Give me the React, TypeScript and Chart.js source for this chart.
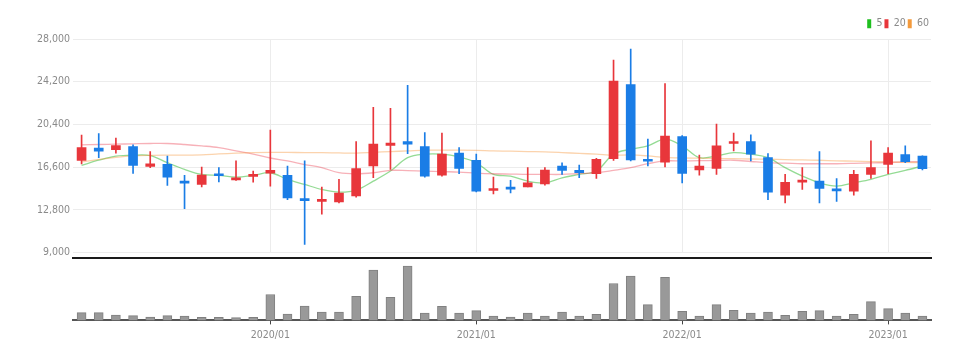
import React, { useEffect, useRef } from 'react';
import { Chart, registerables } from 'chart.js';

Chart.register(...registerables);

const FONT = "'Liberation Sans Narrow', 'DejaVu Sans Condensed', 'Roboto Condensed', 'Liberation Sans', sans-serif";

const months = [
  '2019/02', '2019/03', '2019/04', '2019/05', '2019/06', '2019/07', '2019/08', '2019/09', '2019/10', '2019/11', '2019/12',
  '2020/01', '2020/02', '2020/03', '2020/04', '2020/05', '2020/06', '2020/07', '2020/08', '2020/09', '2020/10', '2020/11', '2020/12',
  '2021/01', '2021/02', '2021/03', '2021/04', '2021/05', '2021/06', '2021/07', '2021/08', '2021/09', '2021/10', '2021/11', '2021/12',
  '2022/01', '2022/02', '2022/03', '2022/04', '2022/05', '2022/06', '2022/07', '2022/08', '2022/09', '2022/10', '2022/11', '2022/12',
  '2023/01', '2023/02', '2023/03',
];

const yearTicks = ['2020/01', '2021/01', '2022/01', '2023/01'];
const priceTicks = [9000, 12800, 16600, 20400, 24200, 28000];

const opens = [
  17200, 18300, 18170, 18440, 16680, 16860, 15360, 15070, 16020, 15480, 15790,
  16080, 15870, 13780, 13570, 13510, 14050, 16710, 18530, 18890, 18440, 15900, 17850,
  17220, 14530, 14830, 14850, 15120, 16710, 16320, 16020, 17360, 23940, 17310, 17040,
  19330, 16350, 16500, 18710, 18890, 17450, 14110, 15270, 15360, 14670, 14470, 15960,
  16860, 17720, 17600,
];
const highs = [
  19450, 19600, 19190, 18590, 17990, 17600, 15870, 16620, 16560, 17160, 16260,
  19900, 16710, 17160, 14830, 15520, 18890, 21930, 21840, 23880, 19690, 19640, 18350,
  17760, 15720, 15430, 16560, 16560, 17000, 16800, 17400, 26120, 27100, 19100, 24030,
  19420, 17670, 20440, 19640, 19490, 17810, 15960, 16560, 17990, 15600, 16320, 18950,
  18350, 18500, 17620,
];
const lows = [
  16900, 17450, 17850, 16050, 16550, 14980, 12920, 14850, 15300, 15430, 15270,
  14920, 13720, 9740, 12430, 13420, 13930, 15660, 16410, 17810, 15720, 15810, 16020,
  14400, 14220, 14310, 14850, 15000, 15960, 15660, 15600, 17200, 17150, 16710, 16620,
  15210, 15900, 15960, 18050, 17160, 13720, 13420, 14620, 13420, 13570, 14110, 15600,
  16020, 17000, 16350,
];
const closes = [
  18350, 18020, 18530, 16770, 16910, 15720, 15180, 15900, 15840, 15660, 15960,
  16320, 13870, 13630, 13750, 14290, 16470, 18650, 18740, 18650, 15810, 17760, 16500,
  14470, 14710, 14650, 15210, 16350, 16320, 16110, 17310, 24260, 17250, 17130, 19370,
  16050, 16710, 18500, 18890, 17760, 14380, 15250, 15430, 14710, 14490, 15960, 16560,
  17850, 17090, 16470,
];

const ma5 = [
  16770, 17220, 17580, 17670, 17630, 17000, 16410, 15960, 15870, 15720, 15870,
  16110, 15520, 15070, 14620, 14380, 14560, 15360, 16260, 17450, 17760, 17760, 17510,
  17000, 15960, 15810, 15360, 15210, 15660, 15960, 16260, 17760, 18200, 18500, 19100,
  18500, 17450, 17600, 17900, 17760, 17450, 16560, 15810, 15210, 14920, 15210, 15520,
  15960, 16320, 16710,
];
const ma20 = [
  18590, 18620, 18650, 18680, 18710, 18710, 18620, 18500, 18350, 18050, 17760,
  17420, 17160, 16840, 16560, 16110, 16020, 16110, 16320, 16300, 16260, 16210, 16170,
  16080, 16020, 15990, 15960, 15960, 15960, 16040, 16110, 16320, 16560, 16910, 17160,
  17160, 17180, 17200, 17220, 17110, 17000, 16960, 16910, 16910, 16910, 16940, 16980,
  17020, 17070, 17090,
];
const ma60 = [
  17070, 17290, 17470, 17600, 17650, 17670, 17680, 17690, 17780, 17850, 17900,
  17920, 17920, 17900, 17900, 17870, 17850, 17920, 17990, 18050, 18120, 18120, 18120,
  18100, 18050, 18030, 17990, 17960, 17900, 17830, 17760, 17670, 17690, 17600, 17470,
  17420, 17400, 17380, 17360, 17330, 17310, 17270, 17250, 17220, 17170, 17140, 17100,
  17070, 17040, 17000,
];

const volumes = [
  770, 770, 530, 470, 330, 470, 430, 300, 300, 270, 300,
  2570, 630, 1430, 830, 830, 2400, 5000, 2300, 5400, 730, 1400, 730,
  970, 430, 330, 730, 430, 830, 430, 600, 3670, 4400, 1570, 4270,
  900, 430, 1570, 1000, 730, 830, 500, 900, 970, 430, 600, 1870,
  1170, 730, 430,
];

const legendNames = ['5', '20', '60'];
const legendColors = ['#1fbf1f', '#e8363b', '#f39a3c'];
const lineColors = ['rgba(60,190,60,0.55)', 'rgba(236,70,85,0.42)', 'rgba(245,150,60,0.42)'];

const UP = '#e8363b';
const DOWN = '#1a7de6';
const candleColor = (i: number) => (closes[i] >= opens[i] ? UP : DOWN);
const isYear = (i: number) => yearTicks.includes(months[i]);

export default function App() {
  const priceRef = useRef<HTMLCanvasElement | null>(null);
  const volRef = useRef<HTMLCanvasElement | null>(null);

  useEffect(() => {
    const maSeries = [ma5, ma20, ma60];
    const price = new Chart(priceRef.current as HTMLCanvasElement, {
      type: 'bar',
      data: {
        labels: months,
        datasets: [
          ...maSeries.map((d, k) => ({
            type: 'line' as const,
            label: legendNames[k],
            data: d,
            borderColor: lineColors[k],
            backgroundColor: legendColors[k],
            borderWidth: 1.3,
            pointRadius: 0,
            tension: 0.35,
            order: 3 - k,
          })),
          {
            type: 'bar' as const,
            label: 'wick',
            data: months.map((_, i) => [lows[i], highs[i]]),
            backgroundColor: (ctx: any) => candleColor(ctx.dataIndex),
            barThickness: 1,
            grouped: false,
            order: 0,
          },
          {
            type: 'bar' as const,
            label: 'body',
            data: months.map((_, i) => [opens[i], closes[i]]),
            backgroundColor: (ctx: any) => candleColor(ctx.dataIndex),
            barThickness: 9,
            minBarLength: 2,
            grouped: false,
            order: -1,
          },
        ] as any,
      },
      options: {
        animation: false,
        responsive: true,
        maintainAspectRatio: false,
        layout: { padding: { left: 8, right: 46, top: 16.5, bottom: 0 } },
        plugins: {
          tooltip: { enabled: false },
          legend: {
            display: true,
            position: 'top',
            align: 'end',
            labels: {
              boxWidth: 4,
              boxHeight: 9,
              padding: 2,
              color: '#8a8a8a',
              font: { size: 10.5, family: FONT },
              generateLabels: () =>
                legendNames.map((t, k) => ({
                  text: t,
                  fillStyle: legendColors[k],
                  strokeStyle: legendColors[k],
                  lineWidth: 0,
                  fontColor: '#8a8a8a',
                  datasetIndex: k,
                  hidden: false,
                })),
            },
          },
        },
        scales: {
          x: {
            offset: true,
            ticks: { display: false, autoSkip: false },
            grid: {
              offset: false,
              drawTicks: false,
              color: (ctx: any) => (isYear(ctx.index) ? '#ececec' : 'rgba(0,0,0,0)'),
            },
            border: { display: false },
          },
          y: {
            min: 9000,
            max: 28000,
            afterBuildTicks: (s: any) => {
              s.ticks = priceTicks.map((v) => ({ value: v }));
            },
            afterFit: (s: any) => {
              s.width = 65;
            },
            ticks: {
              padding: 3,
              color: '#8a8a8a',
              font: { size: 10.5, family: FONT },
              callback: (v: any) => Number(v).toLocaleString('en-US'),
            },
            grid: { color: '#ececec', drawTicks: false },
            border: { display: false },
          },
        },
      } as any,
    });

    const vol = new Chart(volRef.current as HTMLCanvasElement, {
      type: 'bar',
      data: {
        labels: months,
        datasets: [
          {
            label: 'volume',
            data: volumes,
            backgroundColor: '#999999',
            borderColor: '#808080',
            borderWidth: 1,
            barThickness: 9,
          },
        ],
      },
      options: {
        animation: false,
        responsive: true,
        maintainAspectRatio: false,
        layout: { padding: { left: 73, right: 46, top: 8, bottom: 12 } },
        plugins: { legend: { display: false }, tooltip: { enabled: false } },
        scales: {
          x: {
            offset: true,
            ticks: {
              autoSkip: false,
              maxRotation: 0,
              padding: 5,
              color: '#8a8a8a',
              font: { size: 10.5, family: FONT },
              callback: (_v: any, i: number) => (isYear(i) ? months[i] : ''),
            },
            grid: {
              offset: false,
              drawOnChartArea: false,
              tickLength: 4,
              tickColor: (ctx: any) => (isYear(ctx.index) ? '#444444' : 'rgba(0,0,0,0)'),
            },
            border: { display: true, color: '#555555', width: 2 },
          },
          x2: {
            type: 'category',
            position: 'top',
            offset: true,
            ticks: { display: false },
            grid: { display: false, drawTicks: false },
            border: { display: true, color: '#1a1a1a', width: 2 },
          },
          y: {
            display: false,
            min: 0,
            max: 6200,
          },
        },
      } as any,
    });

    return () => {
      price.destroy();
      vol.destroy();
    };
  }, []);

  return (
    <div style={{ position: 'fixed', left: 0, top: 0, width: 977, height: 359, background: '#fff' }}>
      <div style={{ position: 'absolute', left: 0, top: 0, width: 977, height: 262 }}>
        <canvas ref={priceRef} />
      </div>
      <div style={{ position: 'absolute', left: 0, top: 250, width: 977, height: 109 }}>
        <canvas ref={volRef} />
      </div>
    </div>
  );
}
